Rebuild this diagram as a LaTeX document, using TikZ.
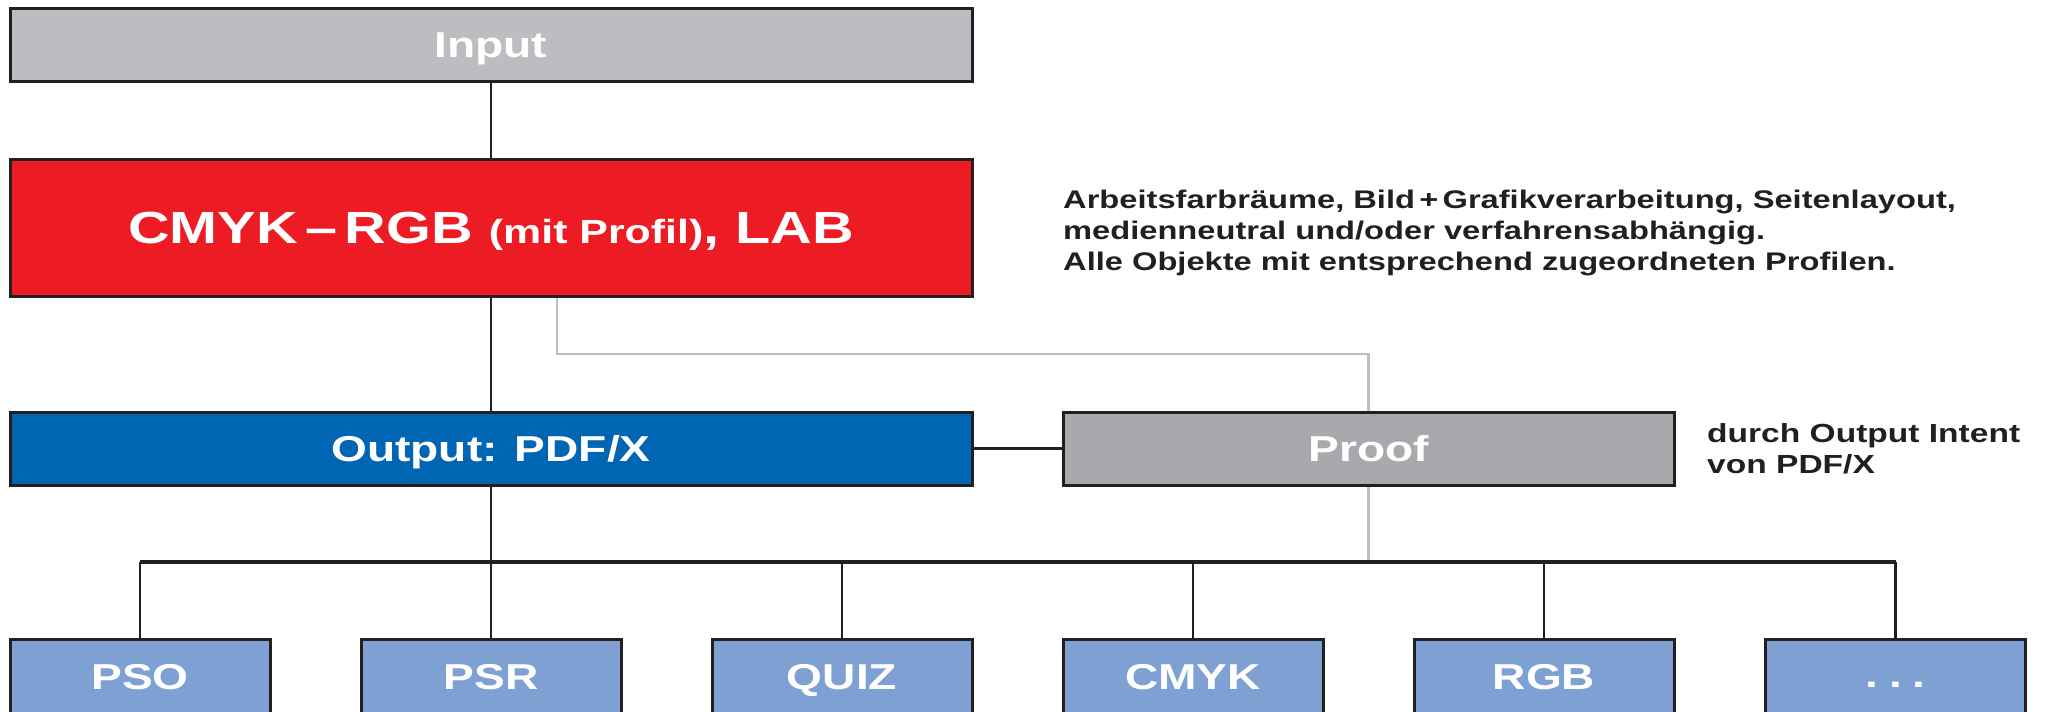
\documentclass[tikz,border=0pt]{standalone}
\usepackage{fontspec}
\setmainfont{Liberation Sans}[FakeStretch=1.28]
\definecolor{ingray}{HTML}{BCBDC0}
\definecolor{cred}{HTML}{ED1C24}
\definecolor{cblue}{HTML}{0066B3}
\definecolor{pgray}{HTML}{A7A9AC}
\definecolor{lblue}{HTML}{7EA0D3}
\definecolor{dark}{HTML}{231F20}
\definecolor{lgray}{HTML}{BCBEC0}
\begin{document}
\begin{tikzpicture}[x=1pt,y=-1pt,
  box/.style={draw=dark,line width=3pt,rectangle,inner sep=0pt,text=white,text height=26pt,text depth=0pt,font=\bfseries\fontsize{36}{40}\selectfont},
  widebox/.style={box,minimum width=962pt},
  smallbox/.style={box,minimum width=260pt,minimum height=75pt},
  conn/.style={draw=dark,line width=2.5pt},
  gconn/.style={draw=lgray,line width=2.5pt},
  note/.style={anchor=west,align=left,text=dark,inner sep=0pt}]
\useasboundingbox (0,0) rectangle (2046,712);
% boxes
\node[widebox,fill=ingray,minimum height=73pt] (in) at (491,44.5) {Input};
\node[widebox,fill=cred,minimum height=137pt,text height=32pt,font=\bfseries\fontsize{45}{48}\selectfont] (red) at (491,227.5) {CMYK\,–\,RGB {\fontsize{33.5}{36}\selectfont(mit Profil)}, LAB};
\node[widebox,fill=cblue,minimum height=73pt] (out) at (491,448.5) {Output: PDF/X};
\node[box,fill=pgray,minimum width=611pt,minimum height=73pt] (proof) at (1368.5,448.5) {Proof};
\node[smallbox,fill=lblue] (b1) at (140,676.5) {PSO};
\node[smallbox,fill=lblue] (b2) at (491,676.5) {PSR};
\node[smallbox,fill=lblue] (b3) at (842,676.5) {QUIZ};
\node[smallbox,fill=lblue] (b4) at (1193,676.5) {CMYK};
\node[smallbox,fill=lblue] (b5) at (1544,676.5) {RGB};
\node[smallbox,fill=lblue,text height=22pt] (b6) at (1895.5,676.5) {.\hspace{0.3em}.\hspace{0.3em}.};
% notes
\node[note,font=\bfseries\fontsize{25.5}{31}\selectfont] (n1) at (1063,233) {Arbeitsfarbräume, Bild\,+\,Grafikverarbeitung, Seitenlayout,\\medienneutral und/oder verfahrensabhängig.\\Alle Objekte mit entsprechend zugeordneten Profilen.};
\node[note,font=\bfseries\fontsize{26.2}{31}\selectfont] (n2) at (1707,448.5) {durch Output Intent\\von PDF/X};
% coordinates
\coordinate (gk) at (557,354);
\coordinate (bus) at (491,562);
% gray connectors
\draw[gconn] (red.south -| gk) -- (gk) -| (proof.north);
\draw[gconn] (proof.south) -- (proof.south |- bus);
% dark connectors
\draw[conn] (in.south) -- (red.north);
\draw[conn] (red.south) -- (out.north);
\draw[conn] (out.east) -- (proof.west);
\draw[conn] (out.south) -- (bus);
\draw[draw=dark,line width=3.5pt] (b1.north |- bus) -- (b6.north |- bus);
\foreach \b in {b1,b2,b3,b4,b5,b6}{
  \draw[conn] (\b.north) -- (\b.north |- bus);
}
\end{tikzpicture}
\end{document}
